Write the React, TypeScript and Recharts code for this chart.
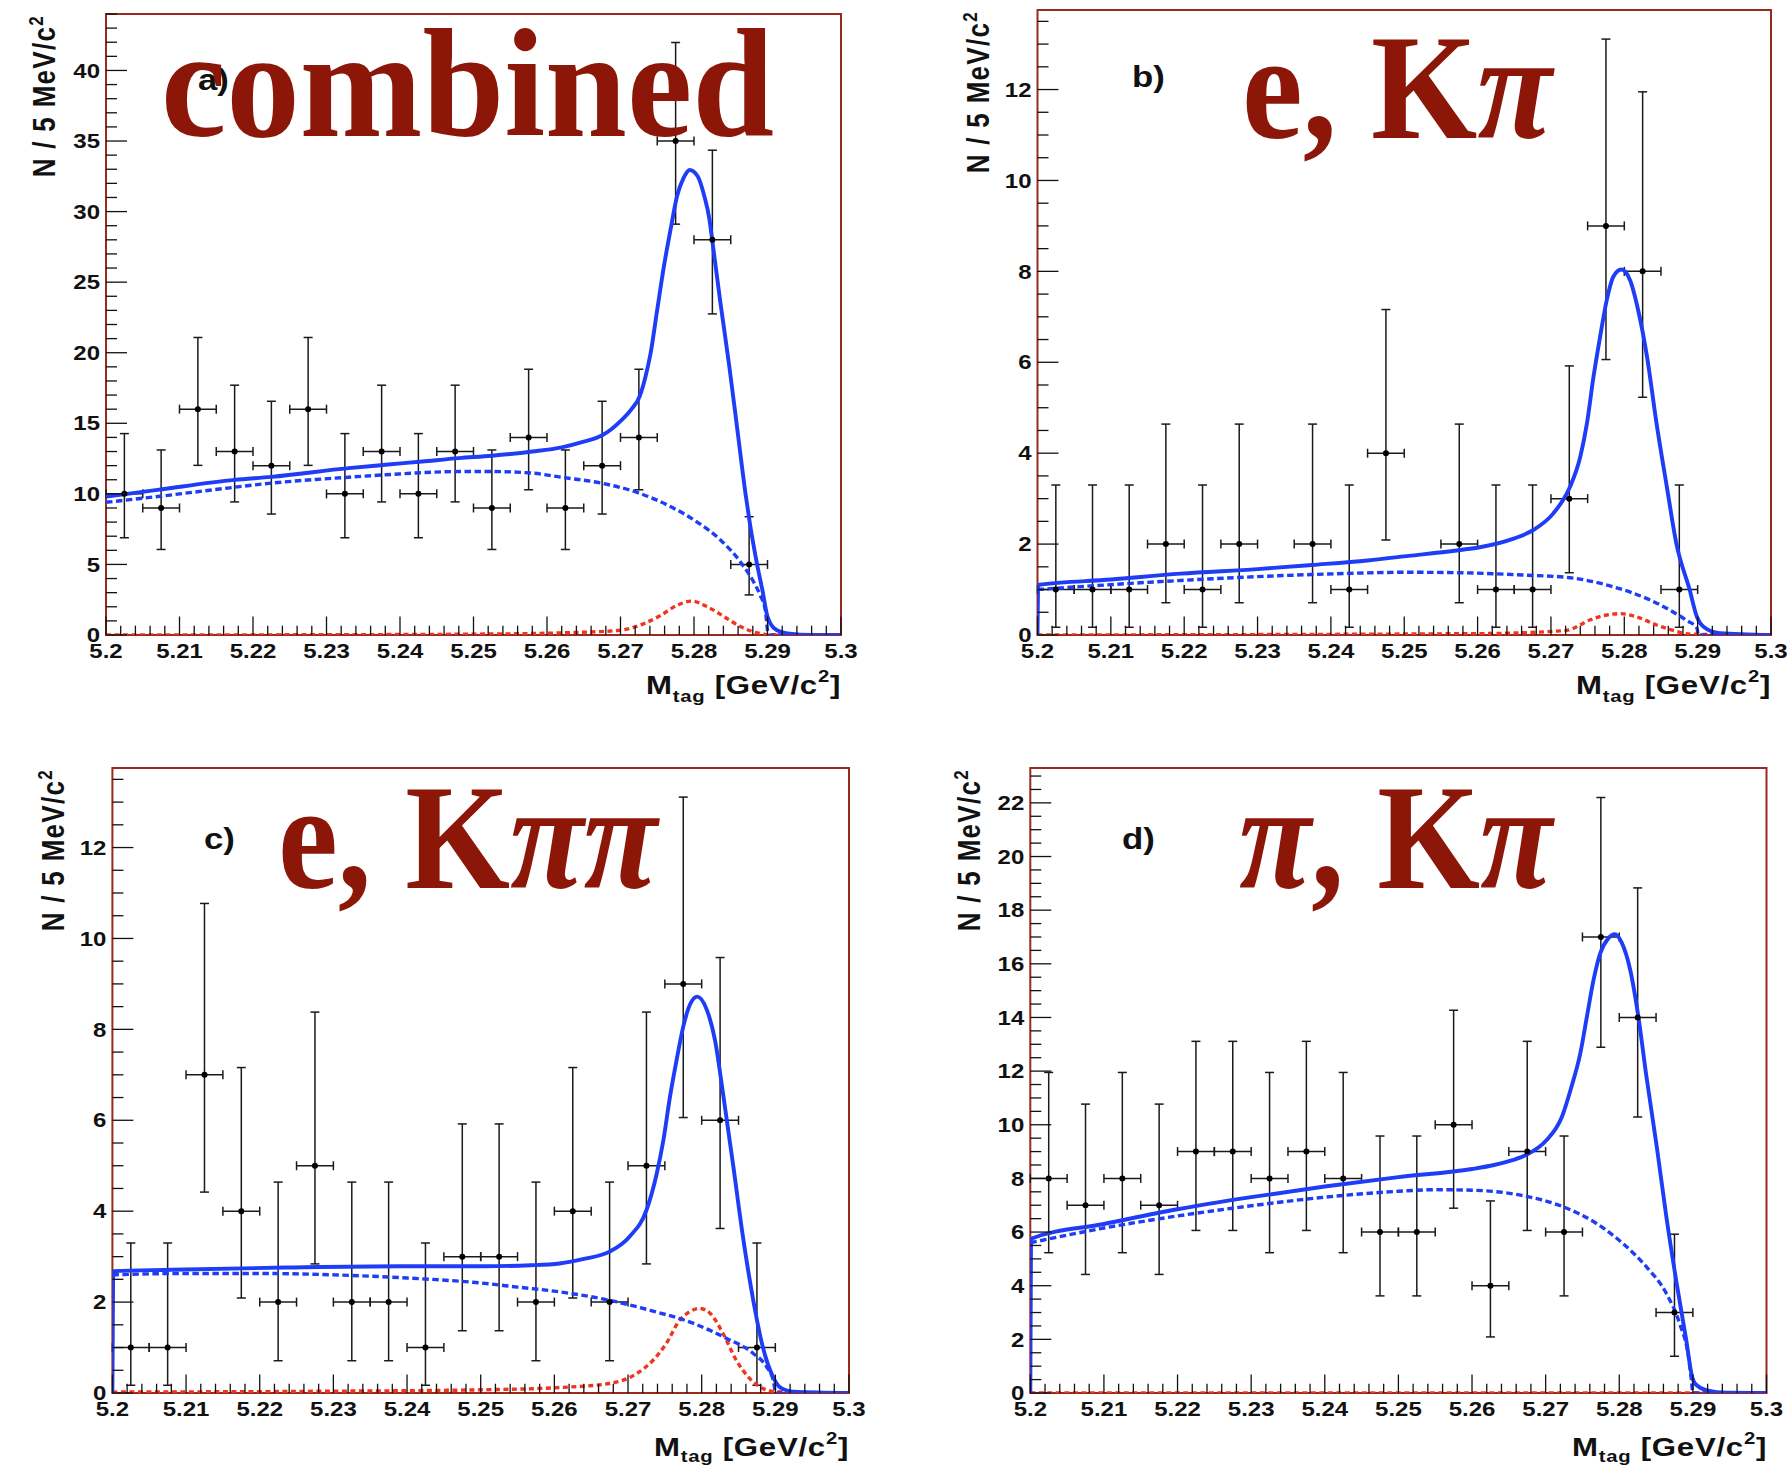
import React from 'react';
import { ComposedChart, XAxis, YAxis, Line, Scatter, ErrorBar, ReferenceArea } from 'recharts';

// ---------------- data ----------------
const binCenters = [5.2025, 5.2075, 5.2125, 5.2175, 5.2225, 5.2275, 5.2325, 5.2375, 5.2425, 5.2475, 5.2525, 5.2575, 5.2625, 5.2675, 5.2725, 5.2775, 5.2825, 5.2875];
const binHalfWidth = 0.0025;

const countsCombined = [10, 9, 16, 13, 12, 16, 10, 13, 10, 13, 9, 14, 9, 12, 14, 35, 28, 5];
const countsEKpi = [1, 1, 1, 2, 1, 2, 0, 2, 1, 4, 0, 2, 1, 1, 3, 9, 8, 1];
const countsEKpipi = [1, 1, 7, 4, 2, 5, 2, 2, 1, 3, 3, 2, 4, 2, 5, 9, 6, 1];
const countsPiKpi = [8, 7, 8, 7, 9, 9, 8, 9, 8, 6, 6, 10, 4, 9, 6, 17, 14, 3];

// error bar lengths [below, above], per bin count
const errorByCount: Record<number, [number, number]> = {
  1: [0.83, 2.3], 2: [1.29, 2.64], 3: [1.63, 2.92], 4: [1.91, 3.16], 5: [2.16, 3.38],
  6: [2.38, 3.58], 7: [2.58, 3.77], 8: [2.77, 3.95], 9: [2.94, 4.11], 10: [3.11, 4.27],
  12: [3.43, 4.56], 13: [3.57, 4.7], 14: [3.71, 4.83], 16: [3.98, 5.08], 17: [4.11, 5.2],
  28: [5.25, 6.35], 35: [5.89, 6.98],
};

const xMajorTicks = [5.2, 5.21, 5.22, 5.23, 5.24, 5.25, 5.26, 5.27, 5.28, 5.29, 5.3];
const xTickLabels = ['5.2', '5.21', '5.22', '5.23', '5.24', '5.25', '5.26', '5.27', '5.28', '5.29', '5.3'];
const yTicksCombined = [0, 5, 10, 15, 20, 25, 30, 35, 40];
const yTicksEKpi = [0, 2, 4, 6, 8, 10, 12];
const yTicksEKpipi = [0, 2, 4, 6, 8, 10, 12];
const yTicksPiKpi = [0, 2, 4, 6, 8, 10, 12, 14, 16, 18, 20, 22];

// fitted curves [x, y]
const totalCombined: [number, number][] = [
  [5.2, 9.8], [5.207, 10.28], [5.2175, 10.99], [5.2225, 11.2], [5.233, 11.82], [5.238, 12.06], [5.243, 12.29],
  [5.248, 12.53], [5.2525, 12.7], [5.258, 13.0], [5.262, 13.3], [5.265, 13.7], [5.2675, 14.15], [5.2688, 14.6],
  [5.27, 15.15], [5.2715, 16.0], [5.2726, 16.9], [5.2734, 18.3], [5.2741, 19.98], [5.275, 23.06], [5.2759, 26.1],
  [5.2768, 28.7], [5.2777, 31.1], [5.2786, 32.4], [5.2794, 32.95], [5.2805, 32.5], [5.2814, 31.1], [5.2821, 29.45],
  [5.2825, 27.9], [5.2836, 23.53], [5.2848, 19.04], [5.2859, 14.54], [5.287, 10.05], [5.2876, 7.92], [5.2886, 4.96],
  [5.2893, 3.19], [5.29, 1.3], [5.2904, 0.8], [5.2913, 0.34], [5.293, 0.1], [5.296, 0.01], [5.3, 0],
];
const bkgCombined: [number, number][] = [
  [5.2, 9.4], [5.207, 9.81], [5.2175, 10.47], [5.2225, 10.76], [5.233, 11.18], [5.238, 11.35], [5.248, 11.58],
  [5.2525, 11.58], [5.258, 11.47], [5.2619, 11.18], [5.2675, 10.75], [5.2726, 10.04], [5.2768, 9.1], [5.28, 8.15],
  [5.2836, 6.73], [5.2863, 5.19], [5.2881, 3.77], [5.289, 2.82], [5.2897, 1.76], [5.29, 0.34], [5.2901, 0], [5.3, 0],
];
const peakCombined: [number, number][] = [
  [5.2, 0], [5.23, 0.02], [5.25, 0.06], [5.262, 0.15], [5.27, 0.34], [5.2732, 0.81], [5.2755, 1.4], [5.2777, 2.1],
  [5.2797, 2.4], [5.2818, 2.0], [5.2841, 1.3], [5.2863, 0.6], [5.2886, 0.15], [5.29, 0.03], [5.3, 0],
];

const totalEKpi: [number, number][] = [
  [5.2, 0], [5.2001, 1.1], [5.21, 1.22], [5.2195, 1.35], [5.23, 1.45], [5.2374, 1.54], [5.245, 1.64], [5.2506, 1.74],
  [5.2576, 1.87], [5.2603, 1.93], [5.2649, 2.12], [5.2676, 2.31], [5.2703, 2.67], [5.2726, 3.26], [5.274, 3.92],
  [5.2749, 4.65], [5.2758, 5.68], [5.2767, 6.56], [5.2776, 7.36], [5.2785, 7.88], [5.2796, 8.04], [5.2808, 7.8],
  [5.2819, 7.14], [5.2831, 6.12], [5.2844, 4.65], [5.2858, 3.26], [5.2871, 2.01], [5.2889, 1.0], [5.2899, 0.4],
  [5.2908, 0.18], [5.293, 0.04], [5.3, 0],
];
const bkgEKpi: [number, number][] = [
  [5.2, 1.0], [5.2195, 1.2], [5.2374, 1.33], [5.2506, 1.38], [5.2576, 1.37], [5.2661, 1.32], [5.2726, 1.26],
  [5.2785, 1.06], [5.2831, 0.8], [5.2862, 0.55], [5.2885, 0.32], [5.2899, 0.15], [5.2901, 0], [5.3, 0],
];
const peakEKpi: [number, number][] = [
  [5.2, 0], [5.26, 0.03], [5.2721, 0.1], [5.2753, 0.33], [5.2776, 0.44], [5.2794, 0.47], [5.2817, 0.4],
  [5.2844, 0.22], [5.2867, 0.1], [5.289, 0.02], [5.3, 0],
];

const totalEKpipi: [number, number][] = [
  [5.2, 0], [5.2001, 2.68], [5.208, 2.71], [5.2235, 2.76], [5.239, 2.79], [5.2506, 2.79], [5.2568, 2.81],
  [5.2607, 2.85], [5.264, 2.95], [5.2675, 3.11], [5.2702, 3.44], [5.2725, 4.02], [5.2739, 4.83], [5.2748, 5.56],
  [5.2757, 6.52], [5.2766, 7.33], [5.2775, 8.06], [5.2784, 8.54], [5.2794, 8.72], [5.2807, 8.43], [5.2818, 7.77],
  [5.2829, 6.59], [5.2843, 4.98], [5.2856, 3.44], [5.287, 2.04], [5.2883, 1.01], [5.2897, 0.35], [5.2906, 0.13],
  [5.2924, 0.03], [5.3, 0],
];
const bkgEKpipi: [number, number][] = [
  [5.2, 2.6], [5.21, 2.63], [5.22, 2.63], [5.23, 2.6], [5.24, 2.53], [5.25, 2.42], [5.255, 2.33], [5.26, 2.24],
  [5.2675, 2.04], [5.273, 1.82], [5.2789, 1.53], [5.2834, 1.2], [5.287, 0.87], [5.2888, 0.58], [5.2897, 0.29],
  [5.2901, 0], [5.3, 0],
];
const peakEKpipi: [number, number][] = [
  [5.2, 0.02], [5.23, 0.04], [5.25, 0.07], [5.2607, 0.12], [5.2675, 0.21], [5.2712, 0.43], [5.2734, 0.72],
  [5.2752, 1.09], [5.277, 1.6], [5.2784, 1.79], [5.2797, 1.86], [5.2811, 1.76], [5.2829, 1.31], [5.2847, 0.72],
  [5.2865, 0.32], [5.2883, 0.1], [5.29, 0.03], [5.3, 0],
];

const totalPiKpi: [number, number][] = [
  [5.2, 0], [5.2001, 5.75], [5.21, 6.3], [5.22, 6.85], [5.23, 7.3], [5.24, 7.7], [5.25, 8.05], [5.26, 8.35],
  [5.263, 8.5], [5.2655, 8.68], [5.2674, 8.88], [5.2701, 9.42], [5.2722, 10.29], [5.2735, 11.41], [5.2747, 12.65],
  [5.2756, 14.02], [5.2765, 15.39], [5.2774, 16.38], [5.2785, 16.94], [5.2794, 17.1], [5.2803, 16.81],
  [5.2815, 15.76], [5.2826, 14.02], [5.2837, 11.78], [5.2851, 9.17], [5.2864, 6.56], [5.2878, 4.08],
  [5.2891, 1.97], [5.2899, 0.6], [5.2903, 0.35], [5.2919, 0.1], [5.2946, 0.01], [5.3, 0],
];
const bkgPiKpi: [number, number][] = [
  [5.2, 5.6], [5.21, 6.15], [5.22, 6.6], [5.23, 6.98], [5.24, 7.3], [5.25, 7.52], [5.255, 7.58], [5.26, 7.56],
  [5.2674, 7.33], [5.2724, 6.94], [5.2769, 6.32], [5.2805, 5.57], [5.2837, 4.7], [5.2864, 3.71], [5.2882, 2.59],
  [5.2894, 1.35], [5.2898, 0.48], [5.29, 0], [5.3, 0],
];
const peakPiKpi: [number, number][] = [[5.2, 0], [5.3, 0]];

// ---------------- style ----------------
const BLUE = '#1f3cf6';
const RED = '#f2331d';
const FRAME = '#9a2a1e';
const INK = '#111';
const TITLE = '#8c1607';
const SANS = '"Liberation Sans", Arial, Helvetica, sans-serif';
const SERIF = '"Liberation Serif", "Times New Roman", serif';
const SX = 1.2;
const X_AXIS_H = 30;
const Y_AXIS_W = 60;

type Box = { left: number; top: number; width: number; height: number };
type Plot = { left: number; right: number; top: number; bottom: number };

function stepTicks(start: number, step: number, end: number): number[] {
  const out: number[] = [];
  for (let k = 0; start + k * step <= end + 1e-9; k++) out.push(+(start + k * step).toFixed(6));
  return out;
}

function makeXTick() {
  return (props: any) => {
    const { x, y, payload } = props;
    const v = payload.value;
    const idx = xMajorTicks.findIndex((m) => Math.abs(m - v) < 1e-6);
    const major = idx >= 0;
    return (
      <g>
        <line x1={x} x2={x} y1={y} y2={y - (major ? 18.5 : 9.3)} stroke={INK} strokeWidth={1.3} />
        {major && (
          <text transform={`translate(${x},${y + 22.5}) scale(${SX},1)`} textAnchor="middle" fontFamily={SANS}
            fontWeight="bold" fontSize={20} fill={INK}>{xTickLabels[idx]}</text>
        )}
      </g>
    );
  };
}

function makeYTick(majors: number[]) {
  return (props: any) => {
    const { x, y, payload } = props;
    const v = payload.value;
    const idx = majors.findIndex((m) => Math.abs(m - v) < 1e-6);
    const major = idx >= 0;
    return (
      <g>
        <line x1={x} x2={x + (major ? 21 : 11)} y1={y} y2={y} stroke={INK} strokeWidth={1.3} />
        {major && (
          <text transform={`translate(${x - 6},${y}) scale(${SX},1)`} dy="0.36em" textAnchor="end" fontFamily={SANS}
            fontWeight="bold" fontSize={20} fill={INK}>{String(majors[idx])}</text>
        )}
      </g>
    );
  };
}

type PanelDef = {
  id: string;
  counts: number[];
  total: [number, number][];
  bkg: [number, number][];
  peak: [number, number][];
  yMax: number;
  yMajor: number[];
  yMinorStep: number;
  box: Box;
  plot: Plot;
};

const panels: PanelDef[] = [
  {
    id: 'a', counts: countsCombined, total: totalCombined, bkg: bkgCombined, peak: peakCombined,
    yMax: 44, yMajor: yTicksCombined, yMinorStep: 1,
    box: { left: 0, top: 0, width: 895, height: 733 }, plot: { left: 106, right: 841, top: 14, bottom: 635 },
  },
  {
    id: 'b', counts: countsEKpi, total: totalEKpi, bkg: bkgEKpi, peak: peakEKpi,
    yMax: 13.75, yMajor: yTicksEKpi, yMinorStep: 0.5,
    box: { left: 895, top: 0, width: 895, height: 733 }, plot: { left: 1037.5, right: 1771, top: 10, bottom: 635 },
  },
  {
    id: 'c', counts: countsEKpipi, total: totalEKpipi, bkg: bkgEKpipi, peak: peakEKpipi,
    yMax: 13.75, yMajor: yTicksEKpipi, yMinorStep: 0.5,
    box: { left: 0, top: 733, width: 895, height: 734 }, plot: { left: 112.4, right: 849, top: 768, bottom: 1393 },
  },
  {
    id: 'd', counts: countsPiKpi, total: totalPiKpi, bkg: bkgPiKpi, peak: peakPiKpi,
    yMax: 23.3, yMajor: yTicksPiKpi, yMinorStep: 0.5,
    box: { left: 895, top: 733, width: 895, height: 734 }, plot: { left: 1030.3, right: 1766.5, top: 768, bottom: 1393 },
  },
];

const toXY = (arr: [number, number][]) => arr.map(([x, y]) => ({ x, y }));

const Dot = (props: any) => <circle cx={props.cx} cy={props.cy} r={3} fill="#000" />;

function PanelChart({ p }: { p: PanelDef }) {
  const { box, plot } = p;
  const margin = {
    left: plot.left - box.left - Y_AXIS_W,
    right: box.left + box.width - plot.right,
    top: plot.top - box.top,
    bottom: box.top + box.height - plot.bottom - X_AXIS_H,
  };
  const xTicks = stepTicks(5.2, 0.002, 5.3);
  const yTicks = stepTicks(0, p.yMinorStep, p.yMax);
  const points = binCenters
    .map((x, i) => ({ x, y: p.counts[i], ex: binHalfWidth, ey: errorByCount[p.counts[i]] }))
    .filter((d) => d.y > 0);
  return (
    <div style={{ position: 'absolute', left: box.left, top: box.top, width: box.width, height: box.height }}>
      <ComposedChart width={box.width} height={box.height} margin={margin}>
        <XAxis type="number" dataKey="x" domain={[5.2, 5.3]} ticks={xTicks} interval={0} allowDataOverflow
          height={X_AXIS_H} tickSize={0} tickMargin={0} tickLine={false} axisLine={false} tick={makeXTick()} />
        <YAxis type="number" dataKey="y" domain={[0, p.yMax]} ticks={yTicks} interval={0} allowDataOverflow
          width={Y_AXIS_W} tickSize={0} tickMargin={0} tickLine={false} axisLine={false} tick={makeYTick(p.yMajor)} />
        <ReferenceArea x1={5.2} x2={5.3} y1={0} y2={p.yMax} fill="none" fillOpacity={0} stroke={FRAME}
          strokeWidth={2} ifOverflow="visible" />
        <Scatter data={points} shape={Dot} isAnimationActive={false}>
          <ErrorBar dataKey="ex" direction="x" width={4.5} stroke="#1a1a1a" strokeWidth={1.5} />
          <ErrorBar dataKey="ey" direction="y" width={4.5} stroke="#1a1a1a" strokeWidth={1.5} />
        </Scatter>
        <Line data={toXY(p.peak)} dataKey="y" type="monotone" dot={false} activeDot={false} stroke={RED}
          strokeWidth={3.4} strokeDasharray="5 3.5" isAnimationActive={false} />
        <Line data={toXY(p.bkg)} dataKey="y" type="monotone" dot={false} activeDot={false} stroke={BLUE}
          strokeWidth={3.4} strokeDasharray="6.5 3.5" isAnimationActive={false} />
        <Line data={toXY(p.total)} dataKey="y" type="monotone" dot={false} activeDot={false} stroke={BLUE}
          strokeWidth={3.9} isAnimationActive={false} />
      </ComposedChart>
    </div>
  );
}

function YTitle({ cx, top }: { cx: number; top: number }) {
  return (
    <text transform={`translate(${cx},${top}) scale(${SX},1) rotate(-90)`} textAnchor="end" dy="0.36em"
      fontFamily={SANS} fontWeight="bold" fontSize={26} letterSpacing={1.3} fill={INK}>
      N / 5 MeV/c<tspan dy={-10} fontSize={17}>2</tspan>
    </text>
  );
}

function XTitle({ right, baseline, size, subShift }: { right: number; baseline: number; size: number; subShift: number }) {
  const sub = size * 0.65;
  return (
    <text transform={`translate(${right},${baseline}) scale(${SX},1)`} textAnchor="end" fontFamily={SANS}
      fontWeight="bold" fontSize={size} letterSpacing={0.6} fill={INK} style={{ whiteSpace: 'pre' }}>
      M<tspan dy={subShift} fontSize={sub}>tag</tspan>
      <tspan dy={-subShift}>{' [GeV/c'}</tspan>
      <tspan dy={-size * 0.45} fontSize={sub}>2</tspan>
      <tspan dy={size * 0.45}>]</tspan>
    </text>
  );
}

function PanelLabel({ x, y, text }: { x: number; y: number; text: string }) {
  return (
    <text transform={`translate(${x},${y}) scale(${SX},1)`} fontFamily={SANS} fontWeight="bold" fontSize={29} fill={INK}>
      {text}
    </text>
  );
}

function BigTitle({ x, y, len, size, children }: { x: number; y: number; len: number; size: number; children: React.ReactNode }) {
  return (
    <text x={x} y={y} textLength={len} lengthAdjust="spacingAndGlyphs" fontFamily={SERIF} fontWeight="bold"
      fontSize={size} fill={TITLE}>
      {children}
    </text>
  );
}

export default function App() {
  return (
    <div style={{ position: 'absolute', left: 0, top: 0, width: 1790, height: 1467, background: '#fff', overflow: 'hidden' }}>
      {panels.map((p) => (
        <PanelChart key={p.id} p={p} />
      ))}
      <svg width={1790} height={1467} style={{ position: 'absolute', left: 0, top: 0, pointerEvents: 'none' }}>
        <YTitle cx={44} top={15} />
        <YTitle cx={978} top={11} />
        <YTitle cx={53} top={769} />
        <YTitle cx={969} top={769} />
        <XTitle right={841} baseline={694} size={26} subShift={8} />
        <XTitle right={1771} baseline={694} size={26} subShift={8} />
        <XTitle right={849} baseline={1456} size={26} subShift={6} />
        <XTitle right={1767} baseline={1456} size={26} subShift={6} />
        <PanelLabel x={198} y={90} text="a)" />
        <PanelLabel x={1132} y={87} text="b)" />
        <PanelLabel x={204} y={849} text="c)" />
        <PanelLabel x={1122} y={849} text="d)" />
        <BigTitle x={161} y={136} len={613} size={155}>combined</BigTitle>
        <BigTitle x={1242} y={138} len={310} size={150}>
          e, K<tspan fontStyle="italic">π</tspan>
        </BigTitle>
        <BigTitle x={278} y={888} len={379} size={150}>
          e, K<tspan fontStyle="italic">ππ</tspan>
        </BigTitle>
        <BigTitle x={1239} y={888} len={313} size={150}>
          <tspan fontStyle="italic">π</tspan>, K<tspan fontStyle="italic">π</tspan>
        </BigTitle>
      </svg>
    </div>
  );
}
